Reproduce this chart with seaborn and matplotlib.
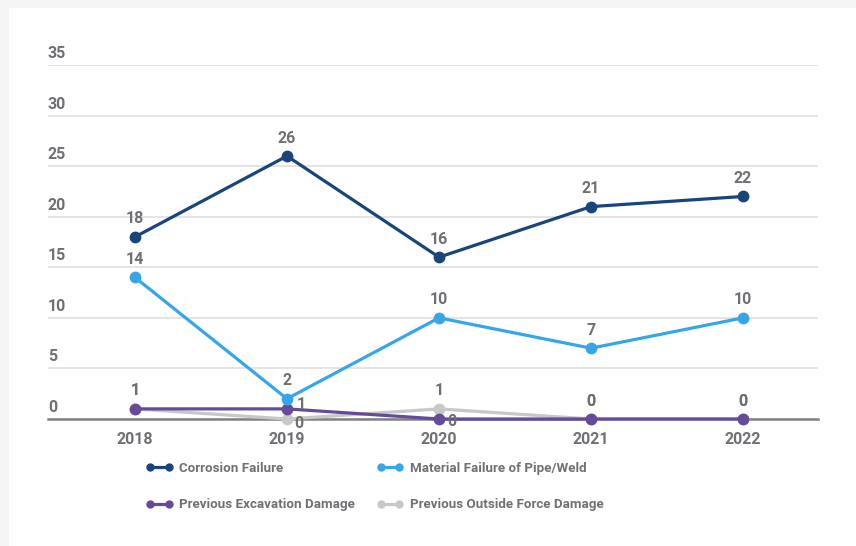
import matplotlib
matplotlib.use("Agg")
import matplotlib.pyplot as plt
import matplotlib.transforms as mtransforms
from matplotlib.lines import Line2D
from matplotlib.patches import Rectangle
import seaborn as sns
import pandas as pd

years = [2018, 2019, 2020, 2021, 2022]
corrosion = [18, 26, 16, 21, 22]
material = [14, 2, 10, 7, 10]
excavation = [1, 1, 0, 0, 0]
outside_force = [1, 0, 1, 0, 0]

series_names = [
    "Corrosion Failure",
    "Material Failure of Pipe/Weld",
    "Previous Excavation Damage",
    "Previous Outside Force Damage",
]
series_values = [corrosion, material, excavation, outside_force]
colors = {
    "Corrosion Failure": "#17457c",
    "Material Failure of Pipe/Weld": "#36a6e8",
    "Previous Excavation Damage": "#654b99",
    "Previous Outside Force Damage": "#c8c8c8",
}
y_ticks = [0, 5, 10, 15, 20, 25, 30, 35]

sns.set_theme(style="white")
plt.rcParams["font.family"] = ["Roboto", "DejaVu Sans"]
plt.rcParams["font.weight"] = "bold"

TEXT = "#6e7074"

df = pd.DataFrame(
    [(n, y, v) for n, vals in zip(series_names, series_values) for y, v in zip(years, vals)],
    columns=["series", "year", "count"],
)

fig = plt.figure(figsize=(8.56, 5.46), dpi=100)
fig.patch.set_facecolor("#f5f5f5")
fig.patches.append(Rectangle((9 / 856, 0), 847 / 856, 538 / 546,
                             transform=fig.transFigure, facecolor="white",
                             edgecolor="none", zorder=-5))

ax = fig.add_axes([48 / 856, (546 - 419) / 546, 770 / 856, 354 / 546])
ax.set_zorder(1)
ax.set_facecolor("none")

# draw from the back series to the front one
draw_order = ["Previous Outside Force Damage", "Previous Excavation Damage",
              "Material Failure of Pipe/Weld", "Corrosion Failure"]
for z, name in enumerate(draw_order):
    sub = df[df["series"] == name]
    sns.lineplot(data=sub, x="year", y="count", ax=ax, color=colors[name],
                 linewidth=2.3, marker="o", markersize=8.5, markeredgewidth=0,
                 clip_on=False, zorder=3 + z, legend=False)

ax.set_xlim(years[0] - 0.572, years[-1] + 0.493)
ax.set_ylim(0, 35)
ax.set_xlabel("")
ax.set_ylabel("")

ax.set_xticks(years)
ax.set_xticklabels([str(y) for y in years], fontsize=11.5, color=TEXT, fontweight="bold")
ax.set_yticks(y_ticks)
ax.set_yticklabels([str(t) for t in y_ticks], fontsize=11.5, color=TEXT, fontweight="bold")
ax.tick_params(axis="x", length=0, pad=9)
ax.tick_params(axis="y", length=0, pad=0)
shift = mtransforms.ScaledTranslation(0, 13 / 100, fig.dpi_scale_trans)
for lbl in ax.get_yticklabels():
    lbl.set_horizontalalignment("left")
    lbl.set_transform(lbl.get_transform() + shift)

ax.yaxis.grid(True, color="#e2e2e2", linewidth=1.3)
ax.xaxis.grid(False)
for side in ["top", "right", "left"]:
    ax.spines[side].set_visible(False)
ax.spines["bottom"].set_color("#808285")
ax.spines["bottom"].set_linewidth(1.8)
ax.spines["bottom"].set_zorder(2)

# value labels: above the marker by default, beside it where points overlap
beside = {
    ("Previous Excavation Damage", 2019): (14, 4),
    ("Previous Outside Force Damage", 2019): (12, -5),
    ("Previous Excavation Damage", 2020): (13, -2),
}
for name, vals in zip(series_names, series_values):
    for y, v in zip(years, vals):
        dx, dy = beside.get((name, y), (0, 18))
        ax.annotate(str(v), (y, v), xytext=(dx, dy), textcoords="offset pixels",
                    ha="center", va="center", fontsize=11.5, color=TEXT,
                    fontweight="bold", zorder=10, annotation_clip=False)

handles = [Line2D([0], [0], color=colors[n], linewidth=2.3, marker="o",
                  markersize=6, markeredgewidth=0) for n in series_names]
order = [0, 2, 1, 3]
leg = fig.legend([handles[i] for i in order], [series_names[i] for i in order],
                 ncol=2, loc="upper left", bbox_to_anchor=(134 / 856, 1 - 450 / 546),
                 frameon=False, numpoints=2, handlelength=2.0, handletextpad=0.5,
                 columnspacing=1.6, labelspacing=1.75,
                 prop={"size": 9.6, "weight": "bold"})
for t in leg.get_texts():
    t.set_color(TEXT)

fig.savefig("out.png", dpi=100, facecolor=fig.get_facecolor())
